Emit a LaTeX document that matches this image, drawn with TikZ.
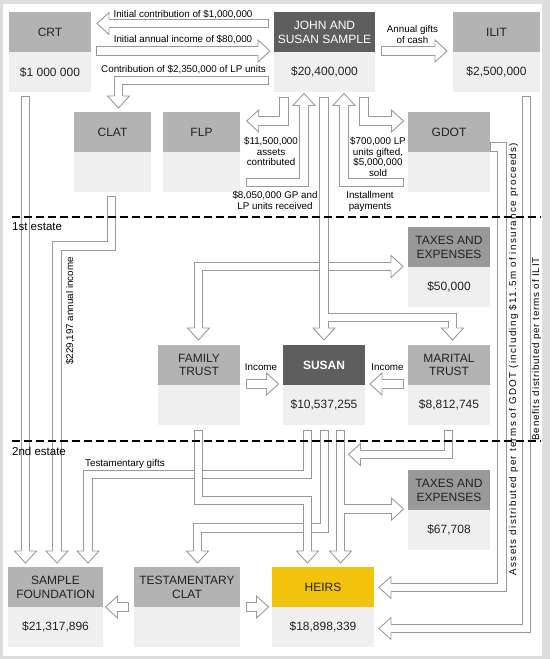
\documentclass[tikz,border=0pt]{standalone}
\usepackage{fontspec}
\setmainfont{Liberation Sans}
\usetikzlibrary{calc}
\definecolor{agray}{HTML}{999999}
\definecolor{hgray}{HTML}{B3B3B3}
\definecolor{dgray}{HTML}{5E5E5E}
\definecolor{tgray}{HTML}{999999}
\definecolor{bgray}{HTML}{EFEFEF}
\definecolor{fgray}{HTML}{DDDDDD}
\definecolor{heiry}{HTML}{F2C30C}
\definecolor{txt}{HTML}{222222}
\newcommand\ahead[2]{\begin{scope}[shift={#1},rotate=#2]
 \fill[white] (0,0) -- (-12,11) -- (-12,-11) -- cycle;
 \draw[agray,line width=0.9pt,line join=miter] (-12,4.15) -- (-12,11) -- (0,0) -- (-12,-11) -- (-12,-4.15);
\end{scope}}
\tikzset{
 fat/.style={draw=agray, line width=0.9pt, double=white, double distance=7.4pt, line cap=rect, line join=miter},
 hdr/.style={anchor=north west, minimum height=40pt, inner sep=0pt, outer sep=0pt, align=center, font=\fontsize{12}{13.8}\selectfont, text=txt, fill=hgray},
 bdy/.style={anchor=north west, minimum height=40pt, inner sep=0pt, outer sep=0pt, font=\fontsize{12}{14}\selectfont, text=txt, fill=bgray},
 lab/.style={font=\fontsize{9.8}{10.4}\selectfont, text=black, align=center, inner sep=0pt},
 est/.style={font=\fontsize{11.5}{13}\selectfont, anchor=base west, inner sep=0pt, text=black},
 sep/.style={black, line width=2pt, dash pattern=on 8pt off 4pt},
}
\begin{document}
\begin{tikzpicture}[x=1pt,y=-1pt]
\useasboundingbox (0,0) rectangle (550,659);
\fill[fgray] (0,0) rectangle (550,659);
\fill[white] (3,4) rectangle (542,656);
% boxes
\node[hdr, minimum width=82pt] (crt) at (9,12) {CRT};
\node[bdy, minimum width=82pt] (crtv) at (9,52) {\$1 000 000};
\node[hdr, minimum width=101pt, fill=dgray, text=white] (john) at (274,12) {JOHN AND\\SUSAN SAMPLE};
\node[bdy, minimum width=101pt] (johnv) at (274,52) {\$20,400,000};
\node[hdr, minimum width=87pt] (ilit) at (453,12) {ILIT};
\node[bdy, minimum width=87pt] (ilitv) at (453,52) {\$2,500,000};
\node[hdr, minimum width=77pt] (clat) at (74,112) {CLAT};
\node[bdy, minimum width=77pt] (clatv) at (74,152) {};
\node[hdr, minimum width=77pt] (flp) at (163,112) {FLP};
\node[bdy, minimum width=77pt] (flpv) at (163,152) {};
\node[hdr, minimum width=82pt] (gdot) at (408,112) {GDOT};
\node[bdy, minimum width=82pt] (gdotv) at (408,152) {};
\node[hdr, minimum width=82pt, fill=tgray] (tax1) at (408,227) {TAXES AND\\EXPENSES};
\node[bdy, minimum width=82pt] (tax1v) at (408,267) {\$50,000};
\node[hdr, minimum width=82pt] (fam) at (158,345) {FAMILY\\TRUST};
\node[bdy, minimum width=82pt] (famv) at (158,385) {};
\node[hdr, minimum width=82pt, fill=dgray, text=white] (susan) at (283,345) {\bfseries SUSAN};
\node[bdy, minimum width=82pt] (susanv) at (283,385) {\$10,537,255};
\node[hdr, minimum width=82pt] (mar) at (408,345) {MARITAL\\TRUST};
\node[bdy, minimum width=82pt] (marv) at (408,385) {\$8,812,745};
\node[hdr, minimum width=82pt, fill=tgray] (tax2) at (408,470) {TAXES AND\\EXPENSES};
\node[bdy, minimum width=82pt] (tax2v) at (408,510) {\$67,708};
\node[hdr, minimum width=95pt] (found) at (8,567) {SAMPLE\\FOUNDATION};
\node[bdy, minimum width=95pt] (foundv) at (8,607) {\$21,317,896};
\node[hdr, minimum width=106pt] (tclat) at (134,567) {TESTAMENTARY\\CLAT};
\node[bdy, minimum width=106pt] (tclatv) at (134,607) {};
\node[hdr, minimum width=102pt, fill=heiry] (heirs) at (272,567) {HEIRS};
\node[bdy, minimum width=102pt] (heirsv) at (272,607) {\$18,898,339};
% 1 john -> crt
\coordinate (s1) at ($(john.north west)+(-10,11.5)$);
\coordinate (t1) at ($(crt.north east)+(6,11.5)$);
\draw[fat] (s1) -- ($(t1)+(12,0)$);
\ahead{(t1)}{180}
\node[lab, anchor=base] (l1) at (183,17.5) {Initial contribution of \$1,000,000};
% 2 crt -> john
\coordinate (s2) at ($(crt.north east)+(10,39)$);
\coordinate (t2) at ($(john.north west)+(-4,39)$);
\draw[fat] (s2) -- ($(t2)+(-12,0)$);
\ahead{(t2)}{0}
\node[lab, anchor=base] (l2) at (183,42.7) {Initial annual income of \$80,000};
% 3 john -> clat
\coordinate (s3) at ($(john.north west)+(-10,68.5)$);
\coordinate (t3) at ($(clat.north west)+(44.5,-4)$);
\draw[fat] (s3) -| ($(t3)+(0,-12)$);
\ahead{(t3)}{270}
\node[lab, anchor=base] (l3) at (183.5,72.7) {Contribution of \$2,350,000 of LP units};
% 4 john -> ilit
\coordinate (s4) at ($(john.north east)+(11,39)$);
\coordinate (t4) at ($(ilit.north west)+(-6,39)$);
\draw[fat] (s4) -- ($(t4)+(-12,0)$);
\ahead{(t4)}{0}
\node[lab, anchor=north] (l4) at (412.5,25.5) {Annual gifts\\of cash};
% 5 ilit -> heirs
\coordinate (s5) at ($(ilitv.south west)+(73.5,9)$);
\coordinate (t5) at ($(heirsv.north east)+(5,21.5)$);
\draw[fat] (s5) |- ($(t5)+(12,0)$);
\ahead{(t5)}{180}
% 6 gdot -> heirs
\coordinate (s6) at ($(gdot.north east)+(5,35)$);
\coordinate (t6) at ($(heirs.north east)+(5,20.5)$);
\draw[fat] (s6) -- ++(7,0) |- ($(t6)+(12,0)$);
\ahead{(t6)}{180}
% 7 john -> flp
\coordinate (s7) at ($(johnv.south west)+(10,9.8)$);
\coordinate (t7) at ($(flp.north east)+(6.7,9)$);
\draw[fat] (s7) |- ($(t7)+(12,0)$);
\ahead{(t7)}{180}
\node[lab, anchor=north] (l7) at (271,137.5) {\$11,500,000\\assets\\contributed};
% 8 flp -> john
\coordinate (s8) at ($(flpv.south east)+(10.8,-9.5)$);
\coordinate (t8) at ($(johnv.south west)+(30,1.5)$);
\draw[fat] (s8) -| ($(t8)+(0,12)$);
\ahead{(t8)}{90}
\node[lab, anchor=north] (l8) at (275,191.5) {\$8,050,000 GP and\\LP units received};
% 11 gdot -> john
\coordinate (s11) at ($(gdotv.south west)+(-8.8,-9.5)$);
\coordinate (t11) at ($(johnv.south west)+(70,1.5)$);
\draw[fat] (s11) -| ($(t11)+(0,12)$);
\ahead{(t11)}{90}
\node[lab, anchor=north] (l11) at (370,191.5) {Installment\\payments};
% 12 john -> gdot
\coordinate (s12) at ($(johnv.south west)+(90,9.8)$);
\coordinate (t12) at ($(gdot.north west)+(-4.5,9)$);
\draw[fat] (s12) |- ($(t12)+(-12,0)$);
\ahead{(t12)}{0}
\node[lab, anchor=north] (l12) at (378,137.5) {\$700,000 LP\\units gifted,\\\$5,000,000\\sold};
% 10 john -> family trust / taxes
\coordinate (t10a) at ($(fam.north west)+(40.5,-5)$);
\coordinate (t10b) at ($(tax1.north west)+(-5,39.5)$);
\draw[fat] ($(t10b)+(-12,0)$) -| ($(t10a)+(0,-12)$);
\ahead{(t10a)}{270}
\ahead{(t10b)}{0}
% 9 john -> susan / marital trust
\coordinate (s9) at ($(johnv.south west)+(50,9.8)$);
\coordinate (t9) at ($(susan.north west)+(41,-5)$);
\coordinate (t9b) at ($(mar.north west)+(44.5,-5)$);
\draw[fat] (s9) -- ($(t9)+(0,-12)$) ($(t9)+(0,-22.5)$) -| ($(t9b)+(0,-12)$);
\ahead{(t9)}{270}
\ahead{(t9b)}{270}
% 13 crt -> foundation
\coordinate (s13) at ($(crtv.south west)+(16.5,8.8)$);
\coordinate (t13) at ($(found.north west)+(17.5,-4)$);
\draw[fat] (s13) -- ($(t13)+(0,-12)$);
\ahead{(t13)}{270}
% 14 clat -> foundation
\coordinate (s14) at ($(clatv.south west)+(37.7,8.8)$);
\coordinate (t14) at ($(found.north west)+(49,-4)$);
\draw[fat] (s14) -- ++(0,45.2) -| ($(t14)+(0,-12)$);
\ahead{(t14)}{270}
\node[lab, rotate=90] (l14) at (70,311) {\$229,197 annual income};
% 15 tclat -> foundation
\coordinate (s15) at ($(tclatv.north west)+(-9.8,0)$);
\coordinate (t15) at ($(foundv.north east)+(2.5,0)$);
\draw[fat] (s15) -- ($(t15)+(12,0)$);
\ahead{(t15)}{180}
% 16 tclat -> heirs
\coordinate (s16) at ($(tclatv.north east)+(10.8,0)$);
\coordinate (t16) at ($(heirsv.north west)+(-3.5,0)$);
\draw[fat] (s16) -- ($(t16)+(-12,0)$);
\ahead{(t16)}{0}
% 17 family trust -> susan
\coordinate (s17) at ($(fam.north east)+(10.8,39)$);
\coordinate (t17) at ($(susan.north west)+(-4.5,39)$);
\draw[fat] (s17) -- ($(t17)+(-12,0)$);
\ahead{(t17)}{0}
\node[lab, anchor=base] (l17) at (261,370) {Income};
% 18 marital trust -> susan
\coordinate (s18) at ($(mar.north west)+(-8.8,39)$);
\coordinate (t18) at ($(susan.north east)+(5,39)$);
\draw[fat] (s18) -- ($(t18)+(12,0)$);
\ahead{(t18)}{180}
\node[lab, anchor=base] (l18) at (387.5,370) {Income};
% 19 susan -> foundation
\coordinate (s19) at ($(susanv.south west)+(24.5,9.3)$);
\coordinate (t19) at ($(found.north west)+(80,-4)$);
\draw[fat] (s19) -- ++(0,40.2) -| ($(t19)+(0,-12)$);
\ahead{(t19)}{270}
\node[lab, anchor=base west] (l19) at (85,466) {Testamentary gifts};
% 21 susan -> testamentary clat
\coordinate (s21) at ($(susanv.south west)+(41.5,9.3)$);
\coordinate (t21) at ($(tclat.north west)+(63.5,-4)$);
\draw[fat] (s21) -- ++(0,93.7) -| ($(t21)+(0,-12)$);
\ahead{(t21)}{270}
% 20 family trust -> heirs
\coordinate (s20) at ($(famv.south west)+(40.5,9.3)$);
\coordinate (t20) at ($(heirs.north west)+(35.5,-4)$);
\draw[fat] (s20) -- ++(0,66.2) -| ($(t20)+(0,-12)$);
\ahead{(t20)}{270}
% 22 susan -> heirs / taxes
\coordinate (s22) at ($(susanv.south west)+(57.5,9.3)$);
\coordinate (t22) at ($(heirs.north west)+(68.5,-4)$);
\coordinate (t22b) at ($(tax2.north west)+(-4.5,39)$);
\draw[fat] (s22) -- ($(t22)+(0,-12)$) ($(s22)+(0,74.7)$) -- ($(t22b)+(-12,0)$);
\ahead{(t22)}{270}
\ahead{(t22b)}{0}
% 23 marital trust -> heirs stream
\coordinate (s23) at ($(marv.south west)+(40.5,9.3)$);
\coordinate (t23) at ($(s23)+(-100,20.2)$);
\draw[fat] (s23) |- ($(t23)+(12,0)$);
\ahead{(t23)}{180}
% estate separators
\draw[sep] (11.7,217) -- (540,217);
\draw[sep] (11.7,441) -- (540,441);
\node[est] (e1) at (12,230.5) {1st estate};
\node[est] (e2) at (12,455) {2nd estate};
% vertical labels
\node[lab, rotate=90] (lg) at (513.5,359) {\addfontfeature{LetterSpace=13.5}Assets distributed per terms of GDOT (including \$11.5m of insurance proceeds)};
\node[lab, rotate=90] (li) at (536.5,349) {\addfontfeature{LetterSpace=8}Benefits distributed per terms of ILIT};
\end{tikzpicture}
\end{document}
